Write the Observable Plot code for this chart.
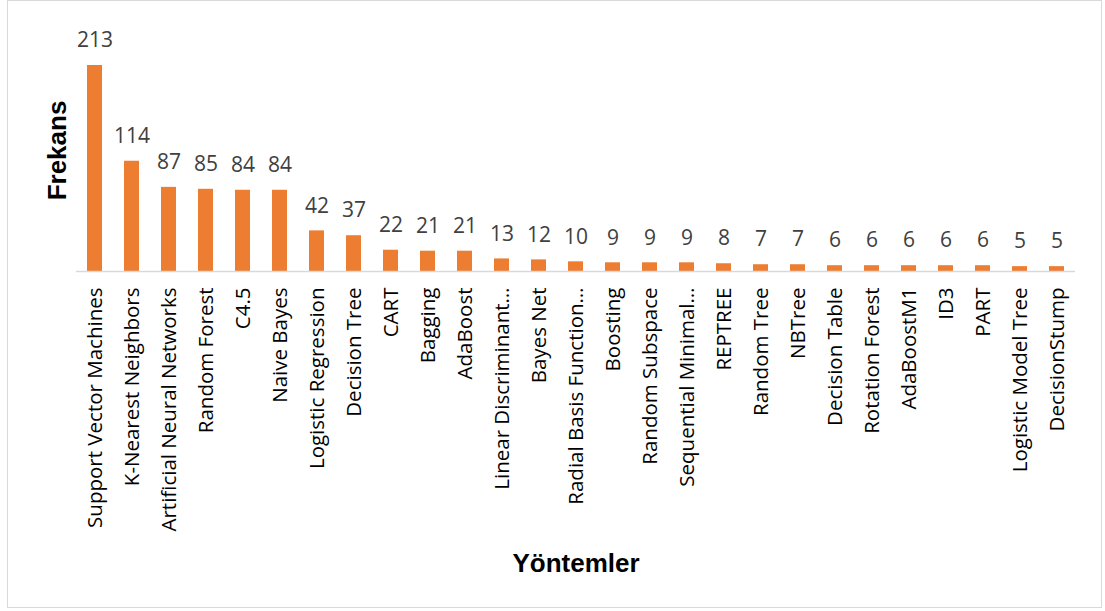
<!DOCTYPE html>
<html>
<head>
<meta charset="utf-8">
<script src="https://cdn.jsdelivr.net/npm/d3@7"></script>
<script src="https://cdn.jsdelivr.net/npm/@observablehq/plot@0.6"></script>
<style>
  html, body { margin: 0; padding: 0; background: #fff; }
  #wrap { position: relative; width: 1105px; height: 611px; overflow: hidden; }
  #frame { position: absolute; left: 7px; top: 0px; width: 1095px; height: 608px; border: 1.5px solid #d9d9d9; box-sizing: border-box; pointer-events: none; }
</style>
</head>
<body>
<div id="wrap"><div id="frame"></div></div>
<script>
const methods = [
  "Support Vector Machines", "K-Nearest Neighbors", "Artificial Neural Networks",
  "Random Forest", "C4.5", "Naive Bayes", "Logistic Regression", "Decision Tree",
  "CART", "Bagging", "AdaBoost", "Linear Discriminant…", "Bayes Net",
  "Radial Basis Function…", "Boosting", "Random Subspace", "Sequential Minimal…",
  "REPTREE", "Random Tree", "NBTree", "Decision Table", "Rotation Forest",
  "AdaBoostM1", "ID3", "PART", "Logistic Model Tree", "DecisionStump"
];
const frequencies = [213, 114, 87, 85, 84, 84, 42, 37, 22, 21, 21, 13, 12, 10, 9, 9, 9, 8, 7, 7, 6, 6, 6, 6, 6, 5, 5];
const yTitle = "Frekans";
const xTitle = "Yöntemler";

const data = methods.map((m, i) => ({method: m, value: frequencies[i]}));

const chart = Plot.plot({
  width: 1105,
  height: 611,
  marginLeft: 76,
  marginRight: 30,
  marginTop: 65,
  marginBottom: 340,
  style: {fontFamily: "'Open Sans', sans-serif", background: "transparent"},
  x: {domain: methods, paddingInner: 0.6, paddingOuter: 0.3, label: null},
  y: {domain: [0, 213], axis: null},
  marks: [
    Plot.barY(data, {x: "method", y: "value", fill: "#ED7D31"}),
    Plot.ruleY([0], {stroke: "#d9d9d9", strokeWidth: 1.5}),
    Plot.text(data, {x: "method", y: "value", text: d => String(d.value), dy: -25, fontSize: 21, fill: "#404040"}),
    Plot.axisX({tickSize: 0, tickRotate: -90, tickPadding: 16, fontSize: 20.5, fill: "#000", textAnchor: "end", label: null}),
    Plot.text([yTitle], {frameAnchor: "left", dx: -19, dy: -18, rotate: -90, textAnchor: "middle", lineAnchor: "middle", fontSize: 26, fontWeight: "bold", fontFamily: "'Liberation Sans', Arial, sans-serif", fill: "#000"}),
    Plot.text([xTitle], {frameAnchor: "bottom", dy: 292, fontSize: 26, fontWeight: "bold", fontFamily: "'Liberation Sans', Arial, sans-serif", fill: "#000", lineAnchor: "middle"})
  ]
});
document.getElementById("wrap").prepend(chart);
</script>
</body>
</html>
